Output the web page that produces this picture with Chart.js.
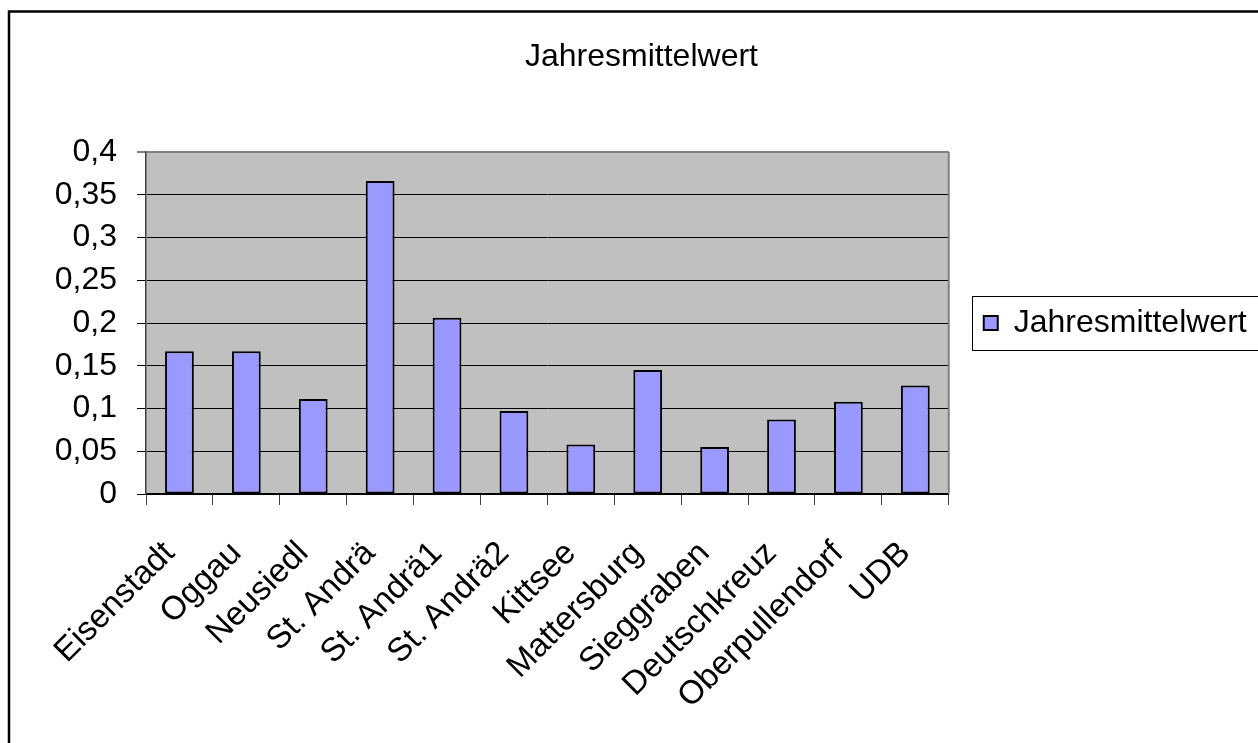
<!DOCTYPE html>
<html><head><meta charset="utf-8">
<script src="https://cdn.jsdelivr.net/npm/chart.js@4.4.1/dist/chart.umd.min.js"></script>
<style>html,body{margin:0;padding:0;background:#fff;overflow:hidden}canvas{display:block}</style>
</head><body>
<canvas id="c" width="1258" height="743"></canvas>
<script>
const categories = ['Eisenstadt','Oggau','Neusiedl','St. Andrä','St. Andrä1','St. Andrä2','Kittsee','Mattersburg','Sieggraben','Deutschkreuz','Oberpullendorf','UDB'];
const seriesName = 'Jahresmittelwert';
const values = [0.167,0.167,0.111,0.366,0.206,0.097,0.058,0.145,0.055,0.087,0.108,0.127];
const yTickLabels = ['0','0,05','0,1','0,15','0,2','0,25','0,3','0,35','0,4'];
const chartTitle = 'Jahresmittelwert';

const FONT = "'Liberation Sans', Arial, sans-serif";

const framePlugin = {
  id: 'frame',
  beforeDraw(chart) {
    const {ctx, chartArea: a} = chart;
    ctx.save();
    ctx.fillStyle = '#ffffff';
    ctx.fillRect(0, 0, chart.width, chart.height);
    ctx.fillStyle = '#C0C0C0';
    ctx.fillRect(a.left, a.top, a.right - a.left, a.bottom - a.top);
    ctx.restore();
  },
  afterDraw(chart) {
    const {ctx, chartArea: a} = chart;
    ctx.save();
    ctx.strokeStyle = '#808080';
    ctx.lineWidth = 2;
    ctx.beginPath();
    ctx.moveTo(a.right, a.top);
    ctx.lineTo(a.right, a.bottom);
    ctx.stroke();
    ctx.strokeStyle = '#000';
    ctx.lineWidth = 2.5;
    ctx.beginPath();
    ctx.moveTo(9, chart.height + 2);
    ctx.lineTo(9, 11.5);
    ctx.lineTo(chart.width + 2, 11.5);
    ctx.stroke();
    const lg = chart.legend;
    if (lg && lg.legendHitBoxes && lg.legendHitBoxes.length) {
      const hb = lg.legendHitBoxes[0];
      const cy = hb.top + hb.height / 2;
      ctx.strokeStyle = '#000';
      ctx.lineWidth = 1;
      ctx.strokeRect(Math.round(hb.left - 12) + 0.5, Math.round(cy - 27) + 0.5, chart.width, 54);
    }
    ctx.restore();
  }
};

new Chart(document.getElementById('c'), {
  type: 'bar',
  data: {
    labels: categories,
    datasets: [{
      label: seriesName,
      data: values,
      backgroundColor: '#9999FF',
      borderColor: '#000000',
      borderWidth: 2,
      borderSkipped: false,
      barPercentage: 0.43,
      categoryPercentage: 1.0
    }]
  },
  options: {
    responsive: false,
    animation: false,
    devicePixelRatio: 1,
    layout: { padding: { left: 27, right: 2, top: 0, bottom: 0 } },
    plugins: {
      title: {
        display: true,
        text: chartTitle,
        color: '#000',
        font: { family: FONT, size: 32, weight: 'normal' },
        padding: { top: 38, bottom: 75.6 }
      },
      legend: {
        display: true,
        position: 'right',
        fullSize: false,
        labels: {
          color: '#000',
          font: { family: FONT, size: 32 },
          boxWidth: 14,
          boxHeight: 14,
          padding: 35
        }
      },
      tooltip: { enabled: false }
    },
    scales: {
      x: {
        offset: true,
        grid: {
          offset: true,
          drawOnChartArea: false,
          drawTicks: true,
          tickLength: 11,
          color: '#404040',
          lineWidth: 1
        },
        border: { color: '#000', width: 2 },
        ticks: {
          color: '#000',
          font: { family: FONT, size: 33 },
          minRotation: 45,
          maxRotation: 45,
          autoSkip: false,
          padding: 29,
          labelOffset: -10
        },
        afterFit(scale) { scale.height = 249; }
      },
      y: {
        min: 0,
        max: 0.4,
        grid: {
          color: (ctx) => (ctx.tick && Math.abs(ctx.tick.value - 0.4) < 1e-9) ? '#808080' : '#000000',
          lineWidth: (ctx) => (ctx.tick && Math.abs(ctx.tick.value - 0.4) < 1e-9) ? 2 : 1,
          tickLength: 9,
          drawTicks: true
        },
        border: { color: '#404040', width: 1.5 },
        ticks: {
          stepSize: 0.05,
          color: '#000',
          font: { family: FONT, size: 32 },
          padding: 20,
          callback: (v, i) => yTickLabels[i]
        },
        afterFit(scale) { scale.width = 119; }
      }
    }
  },
  plugins: [framePlugin]
});
</script>
</body></html>
